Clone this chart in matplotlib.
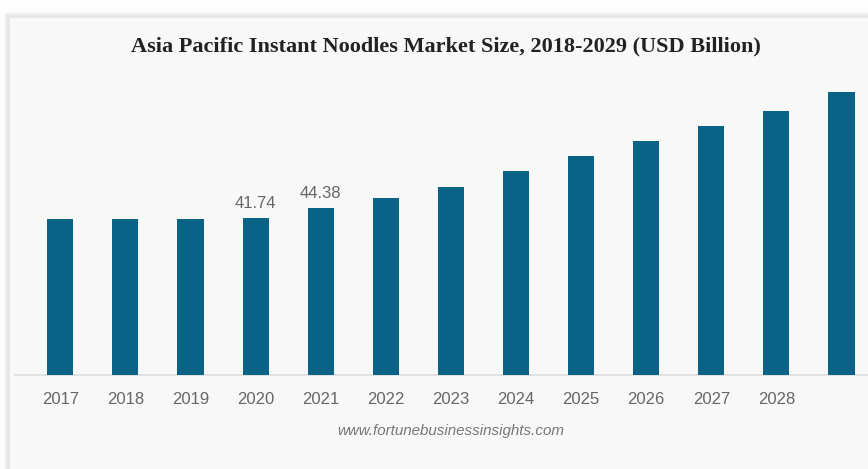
import matplotlib
matplotlib.use("Agg")
import matplotlib.pyplot as plt
from matplotlib.patches import Rectangle

years = ["2017", "2018", "2019", "2020", "2021", "2022", "2023",
         "2024", "2025", "2026", "2027", "2028", "2029"]
values = [41.4, 41.4, 41.4, 41.74, 44.38, 47.0, 49.95,
          54.0, 58.1, 62.1, 66.1, 70.1, 75.0]
tick_labels = ["2017", "2018", "2019", "2020", "2021", "2022", "2023",
               "2024", "2025", "2026", "2027", "2028", ""]
labeled_years = ["2020", "2021"]

W, H = 868, 469
fig = plt.figure(figsize=(W / 100, H / 100), dpi=100)
fig.patch.set_facecolor("#fdfdfd")

# card panel with soft shadow
for off, col in [(5, "#f0f0f0"), (3, "#e6e6e6")]:
    fig.patches.append(Rectangle(((10 - off) / W, -0.1), (W + 20) / W, (H - 18 + off) / H + 0.1,
                                 transform=fig.transFigure, facecolor=col,
                                 edgecolor="none", zorder=-2))
fig.patches.append(Rectangle((10 / W, -0.1), (W + 20) / W, (H - 18) / H + 0.1,
                             transform=fig.transFigure, facecolor="#f8f8f8",
                             edgecolor="none", zorder=-1))

ax = fig.add_axes([15 / W, (H - 375) / H, (W - 15) / W, (375 - 60) / H])
ax.set_facecolor("none")
ax.set_zorder(2)

x = list(range(len(years)))
bars = ax.bar(x, values, width=0.4, color="#0b6287", zorder=3)

for xi, yr, v in zip(x, years, values):
    if yr in labeled_years:
        ax.annotate(f"{v:.2f}", (xi, v), xytext=(0, 5), textcoords="offset points",
                    ha="center", va="bottom", fontsize=12, color="#666666",
                    family="Liberation Sans")

ax.set_xlim(-0.696, 12.407)
ax.set_ylim(0, 83.55)
ax.set_xticks(x)
ax.set_xticklabels(tick_labels, family="Liberation Sans", fontsize=12, color="#666666")
ax.tick_params(axis="x", length=0, pad=12)
ax.set_yticks([])
for s in ["top", "left", "right"]:
    ax.spines[s].set_visible(False)
ax.spines["bottom"].set_color("#dddddd")
ax.spines["bottom"].set_linewidth(1.2)

fig.text(446 / W, 1 - 46 / H, "Asia Pacific Instant Noodles Market Size, 2018-2029 (USD Billion)",
         ha="center", va="center", fontsize=16, fontweight="bold",
         family="Liberation Serif", color="#222222", zorder=3)

fig.text(451 / W, 1 - 431 / H, "www.fortunebusinessinsights.com",
         ha="center", va="center", fontsize=10.9, style="italic",
         family="Liberation Sans", color="#777777", zorder=3)

fig.savefig("out.png", dpi=100, facecolor=fig.get_facecolor())
